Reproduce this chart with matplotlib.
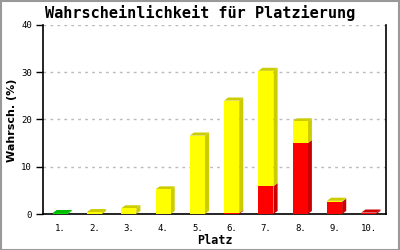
import numpy as np
import matplotlib
matplotlib.use("Agg")
import matplotlib.pyplot as plt
from matplotlib.patches import Polygon, Rectangle

places = ["1.", "2.", "3.", "4.", "5.", "6.", "7.", "8.", "9.", "10."]
green = [0.2, 0, 0, 0, 0, 0, 0, 0, 0, 0]
yellow = [0, 0.4, 1.2, 5.2, 16.6, 23.8, 24.4, 4.6, 0.2, 0]
red = [0, 0, 0, 0, 0, 0.2, 5.9, 15.0, 2.6, 0.3]

series = [(green, "#00dd00", "#00bb00"),
          (yellow, "#ffff00", "#cccc00"),
          (red, "#ff0000", "#cc0000")]
# draw order from bottom: red, yellow, green
order = [series[2], series[1], series[0]]


def main():
    fig = plt.figure(figsize=(4, 2.5), dpi=100)
    ax = fig.add_axes([43 / 400, 36 / 250, 343 / 400, 189 / 250])
    x = np.arange(len(places))
    w = 0.44
    dx, dy = 0.12, 0.65

    bottom = np.zeros(len(places))
    total = np.array(green) + np.array(yellow) + np.array(red)
    for vals, front, dark in order:
        v = np.array(vals)
        for i in range(len(places)):
            if v[i] <= 0:
                continue
            b, t = bottom[i], bottom[i] + v[i]
            x0, x1 = x[i] - w / 2, x[i] + w / 2
            # side face
            ax.add_patch(Polygon([(x1, b), (x1 + dx, b + dy), (x1 + dx, t + dy), (x1, t)],
                                 closed=True, facecolor=dark, edgecolor="none", zorder=3))
            # top face on the highest segment
            if abs(t - total[i]) < 1e-9:
                ax.add_patch(Polygon([(x0, t), (x0 + dx, t + dy), (x1 + dx, t + dy), (x1, t)],
                                     closed=True, facecolor=dark, edgecolor="none", zorder=3))
        ax.bar(x, v, w, bottom=bottom, color=front, zorder=4)
        bottom = bottom + v

    ax.set_xlim(-0.5, len(places) - 0.5)
    ax.set_ylim(0, 40)
    ax.set_yticks([0, 10, 20, 30, 40])
    ax.set_xticks(x)
    ax.set_xticklabels(places, family="DejaVu Sans Mono", fontsize=6.5)
    ax.tick_params(axis="x", length=0, pad=7)
    ax.tick_params(axis="y", length=5, width=1, pad=3, labelsize=6.5)
    for lab in ax.get_yticklabels():
        lab.set_family("DejaVu Sans Mono")
    ax.yaxis.grid(True, linestyle=(0, (2, 3)), color="#bbbbbb", linewidth=1)
    ax.set_axisbelow(True)
    ax.spines["top"].set_visible(False)
    for s in ["left", "bottom", "right"]:
        ax.spines[s].set_linewidth(1.2)

    fig.text(0.5, 1 - 13 / 250, "Wahrscheinlichkeit für Platzierung", ha="center", va="center",
             family="DejaVu Sans Mono", fontsize=11, fontweight="bold")
    fig.text(12 / 400, 1 - 120 / 250, "Wahrsch. (%)", rotation=90, ha="center", va="center",
             family="DejaVu Sans", fontsize=8, fontweight="bold")
    fig.text(215 / 400, 1 - 240 / 250, "Platz", ha="center", va="center",
             family="DejaVu Sans Mono", fontsize=8.5, fontweight="bold")

    fig.patches.append(Rectangle((0.0015, 0.002), 0.997, 0.996, transform=fig.transFigure,
                                 fill=False, edgecolor="#999999", linewidth=1.5))
    fig.savefig("out.png", dpi=100)


if __name__ == "__main__":
    main()
